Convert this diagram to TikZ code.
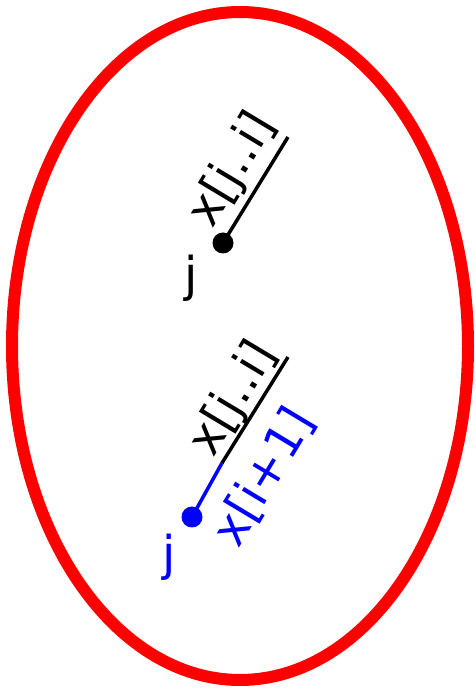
\documentclass[tikz,border=0pt]{standalone}
\usepackage{fontspec}
\setmainfont{DejaVu Sans}
\begin{document}
\begin{tikzpicture}[x=1pt,y=1pt,
  lbl/.style={font=\fontsize{48}{58}\selectfont, inner sep=0pt},
  rlbl/.style={lbl, rotate=59},
  dotnode/.style={circle, fill, inner sep=0pt, minimum size=21pt},
  seg/.style={line width=3.5pt}]
\useasboundingbox (0,0) rectangle (475,694);
\draw[red, line width=12pt] (240,348) ellipse [x radius=228pt, y radius=334pt];
% top
\node[dotnode] (d1) at (223,451) {};
\coordinate (topend) at (288,557);
\draw[seg] (d1.center) -- (topend);
\node[rlbl] (l1) at (233,524) {x[j..i]};
\node[lbl] (j1) at (191,416) {j};
% bottom
\node[dotnode, blue] (d2) at (192,177) {};
\coordinate (mid) at (222,231);
\coordinate (botend) at (288,337);
\draw[seg, blue] (d2.center) -- (mid);
\draw[seg] (mid) -- (botend);
\node[rlbl] (l2) at (234,295) {x[j..i]};
\node[rlbl, blue] (l3) at (264,217) {x[i+1]};
\node[lbl, blue] (j2) at (169,137) {j};
\end{tikzpicture}
\end{document}
